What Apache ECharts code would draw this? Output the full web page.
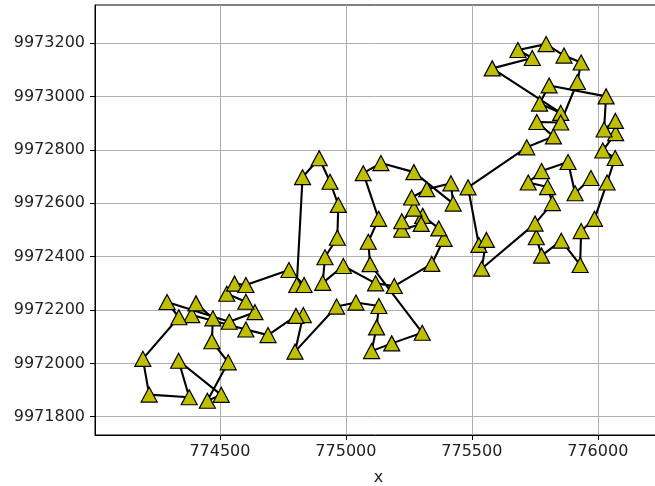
<!DOCTYPE html>
<html><head><meta charset="utf-8">
<script src="https://cdn.jsdelivr.net/npm/echarts@6/dist/echarts.min.js"></script>
<style>html,body{margin:0;padding:0;background:#fff}#c{width:655px;height:486px}</style>
</head><body><div id="c"></div>
<script>
const xTicks = [774500, 775000, 775500, 776000];
const yTicks = [9971800, 9972000, 9972200, 9972400, 9972600, 9972800, 9973000, 9973200];

// route through the middle and left groups (drawn in order)
const routeAX = [774805, 774828, 774894, 774937, 774970, 774966, 774917, 774908, 774990, 775118,
  775192, 775341, 775390, 775369, 775305, 775299, 775222, 775222, 775270, 775261,
  775321, 775417, 775426, 775270, 775139, 775069, 775130, 775089, 775096, 775303,
  775182, 775102, 775122, 775131, 775040, 774963, 774798, 774831, 774802, 774691,
  774603, 774388, 774405, 774472, 774468, 774533, 774450, 774505, 774336, 774378,
  774219, 774194, 774337, 774290, 774537, 774639, 774603, 774527, 774558, 774603,
  774774, 774834];
const routeAY = [9972294, 9972698, 9972769, 9972681, 9972594, 9972471, 9972398, 9972302, 9972365, 9972300,
  9972290, 9972373, 9972467, 9972506, 9972553, 9972523, 9972501, 9972533, 9972580, 9972622,
  9972653, 9972675, 9972599, 9972717, 9972751, 9972713, 9972542, 9972456, 9972372, 9972115,
  9972075, 9972046, 9972135, 9972215, 9972228, 9972213, 9972044, 9972181, 9972178, 9972106,
  9972127, 9972181, 9972225, 9972169, 9972083, 9972004, 9971860, 9971882, 9972010, 9971873,
  9971883, 9972017, 9972173, 9972230, 9972156, 9972192, 9972231, 9972261, 9972299, 9972294,
  9972350, 9972294];

// route through the right group
const routeBX = [775756, 775777, 775855, 775930, 775934, 775987, 776037, 776069, 776020, 776071,
  776070, 776025, 776033, 775807, 775769, 775853, 775581, 775740, 775683, 775795,
  775866, 775934, 775919, 775853, 775758, 775824, 775718, 775485, 775528, 775558,
  775539, 775751, 775820, 775801, 775724, 775777, 775882, 775910, 775973];
const routeBY = [9972473, 9972404, 9972460, 9972369, 9972496, 9972542, 9972678, 9972770, 9972798, 9972863,
  9972909, 9972877, 9973001, 9973042, 9972974, 9972939, 9973106, 9973145, 9973175, 9973197,
  9973154, 9973128, 9973055, 9972903, 9972905, 9972851, 9972810, 9972660, 9972444, 9972463,
  9972355, 9972524, 9972601, 9972661, 9972678, 9972721, 9972755, 9972638, 9972695];

const pairs = (xs, ys) => xs.map((x, i) => [x, ys[i]]);
const font = 'DejaVu Sans';
const lineSeries = (data) => ({
  type: 'line', data: data, symbol: 'triangle', symbolSize: [16, 15], showSymbol: true,
  lineStyle: { color: '#000', width: 2.1 },
  itemStyle: { color: '#bfbf00', borderColor: '#000', borderWidth: 1.2 },
  emphasis: { disabled: true }, silent: true, clip: true
});

const chart = echarts.init(document.getElementById('c'), null, { renderer: 'canvas' });
chart.setOption({
  animation: false,
  backgroundColor: '#fff',
  grid: { left: 95, top: 5, width: 567, height: 430, show: true, borderColor: '#000', borderWidth: 1,
    backgroundColor: 'transparent', containLabel: false, outerBoundsMode: 'none' },
  xAxis: {
    type: 'value', min: 774004, max: 776255, splitNumber: 5,
    axisLine: { show: true, lineStyle: { color: '#000', width: 1 } },
    axisTick: { show: true, inside: false, length: 5, lineStyle: { color: '#000' }, customValues: xTicks },
    axisLabel: { customValues: xTicks, color: '#222', fontSize: 16, fontFamily: font, margin: 9,
      formatter: v => String(v) },
    splitLine: { show: true, lineStyle: { color: '#b0b0b0', width: 1 } },
    name: 'x', nameLocation: 'middle', nameGap: 35,
    nameTextStyle: { color: '#222', fontSize: 16, fontFamily: font }
  },
  yAxis: {
    type: 'value', min: 9971731.5, max: 9973343.6, splitNumber: 8,
    axisLine: { show: true, lineStyle: { color: '#000', width: 1 } },
    axisTick: { show: true, inside: false, length: 5, lineStyle: { color: '#000' }, customValues: yTicks },
    axisLabel: { customValues: yTicks, color: '#222', fontSize: 16, fontFamily: font, margin: 10,
      formatter: v => String(v) },
    splitLine: { show: true, lineStyle: { color: '#b0b0b0', width: 1 } }
  },
  series: [lineSeries(pairs(routeAX, routeAY)), lineSeries(pairs(routeBX, routeBY))]
});
</script>
</body></html>
